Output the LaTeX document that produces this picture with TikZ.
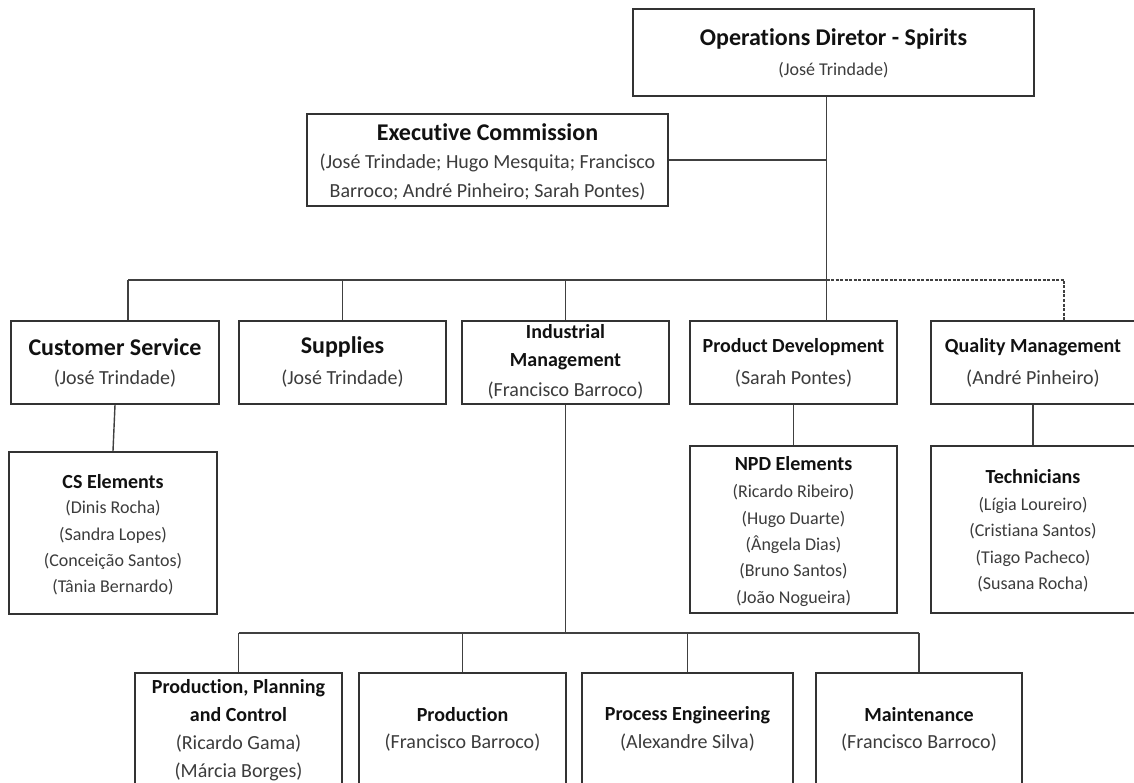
\documentclass[tikz,border=0pt]{standalone}
\usepackage{fontspec}
\setmainfont{Carlito}[Ligatures={NoCommon,NoContextual,NoRare,NoRequired},Contextuals=NoAlternate]
% zero kern between letters keeps the font from joining "t" and "i"
\newcommand\sepgl{\kern0pt{}}
\definecolor{boxline}{HTML}{333333}
\definecolor{linkline}{HTML}{404040}
\definecolor{headtext}{HTML}{111111}
\definecolor{nametext}{HTML}{3C3C3C}
\begin{document}
\begin{tikzpicture}[x=1pt,y=-1pt,
  unit/.style={draw=boxline,line width=2pt,inner sep=0pt,rectangle},
  headbig/.style={inner sep=0pt,text=headtext,align=center,font=\bfseries\fontsize{24}{29}\selectfont},
  headmid/.style={inner sep=0pt,text=headtext,align=center,font=\bfseries\fontsize{20}{28}\selectfont},
  person/.style={inner sep=0pt,text=nametext,align=center,font=\fontsize{20}{29}\selectfont},
  staff/.style={inner sep=0pt,text=nametext,align=center,font=\fontsize{18}{26.3}\selectfont},
  link/.style={draw=linkline,line width=1.4pt},
  dottedlink/.style={draw=linkline,line width=1.2pt,dash pattern=on 3pt off 1.5pt}]
\useasboundingbox (0,0) rectangle (1134,783);
\clip (0,0) rectangle (1134,783);
\fill[white] (0,0) rectangle (1134,783);

% ---- boxes ----
\node[unit,minimum width=401pt,minimum height=87pt] (od) at (833.5,52.5) {};
\node[unit,minimum width=361pt,minimum height=92pt] (ec) at (487.5,160) {};
\node[unit,minimum width=208pt,minimum height=83pt] (cs) at (115,362.5) {};
\node[unit,minimum width=207pt,minimum height=83pt] (sup) at (342.5,362.5) {};
\node[unit,minimum width=207pt,minimum height=83pt] (im) at (565.5,362.5) {};
\node[unit,minimum width=207pt,minimum height=83pt] (pd) at (793.5,362.5) {};
\node[unit,minimum width=204pt,minimum height=83pt] (qm) at (1033,362.5) {};
\node[unit,minimum width=208pt,minimum height=162pt] (cse) at (113,533) {};
\node[unit,minimum width=207pt,minimum height=167pt] (npd) at (793.5,529.5) {};
\node[unit,minimum width=204pt,minimum height=167pt] (tech) at (1033,529.5) {};
\node[unit,minimum width=207pt,minimum height=127pt] (ppc) at (238.5,736.5) {};
\node[unit,minimum width=207pt,minimum height=127pt] (prod) at (462.5,736.5) {};
\node[unit,minimum width=211pt,minimum height=127pt] (pe) at (687.5,736.5) {};
\node[unit,minimum width=206pt,minimum height=127pt] (mnt) at (919,736.5) {};

% ---- texts ----
\node[headbig] (od-t) at (833.5,39) {Operat\sepgl ions Diretor - Spirits};
\node[staff] (od-n) at (833.5,70) {(José Trindade)};

\node[headbig] (ec-t) at (487.5,132) {Execut\sepgl ive Commission};
\node[person] (ec-n) at (487.5,177.5) {(José Trindade; Hugo Mesquita; Francisco\\Barroco; André Pinheiro; Sarah Pontes)};

\node[headbig] (cs-t) at (115,347) {Customer Service};
\node[person] (cs-n) at (115,379) {(José Trindade)};
\node[headbig] (sup-t) at (342.5,347) {Supplies};
\node[person] (sup-n) at (342.5,379) {(José Trindade)};
\node[headmid] (im-t) at (565.5,347) {Industrial\\Management};
\node[person] (im-n) at (565.5,391) {(Francisco Barroco)};
\node[headmid] (pd-t) at (793.5,347) {Product Development};
\node[person] (pd-n) at (793.5,379) {(Sarah Pontes)};
\node[headmid] (qm-t) at (1033,347) {Quality Management};
\node[person] (qm-n) at (1033,379) {(André Pinheiro)};

\node[headmid] (cse-t) at (113,481.7) {CS Elements};
\node[staff] (cse-n) at (113,548) {(Dinis Rocha)\\(Sandra Lopes)\\(Conceição Santos)\\(Tânia Bernardo)};
\node[headmid] (npd-t) at (793.5,464) {NPD Elements};
\node[staff] (npd-n) at (793.5,545.4) {(Ricardo Ribeiro)\\(Hugo Duarte)\\(Ângela Dias)\\(Bruno Santos)\\(João Nogueira)};
\node[headmid] (tech-t) at (1033,476.6) {Technicians};
\node[staff] (tech-n) at (1033,544.8) {(Lígia Loureiro)\\(Crist\sepgl iana Santos)\\(Tiago Pacheco)\\(Susana Rocha)};

\node[headmid] (ppc-t) at (238.5,700.8) {Product\sepgl ion, Planning\\and Control};
\node[person,font=\fontsize{20}{27.7}\selectfont] (ppc-n) at (238.5,757.8) {(Ricardo Gama)\\(Márcia Borges)};
\node[headmid] (prod-t) at (462.5,715) {Product\sepgl ion};
\node[person] (prod-n) at (462.5,743) {(Francisco Barroco)};
\node[headmid] (pe-t) at (687.5,715) {Process Engineering};
\node[person] (pe-n) at (687.5,743) {(Alexandre Silva)};
\node[headmid] (mnt-t) at (919,715) {Maintenance};
\node[person] (mnt-n) at (919,743) {(Francisco Barroco)};

% ---- connectors ----
\coordinate (spine) at (826.5,280);
\coordinate (busleft) at (128,280);
\coordinate (busright) at (1064,280);
\coordinate (lowbus) at (565.5,633);

\draw[link] (od.south -| spine) -- (pd.north -| spine);
\draw[link] (ec.east) -- (ec.east -| spine);
\draw[link] (busleft) -- (spine);
\draw[dottedlink] (spine) -- (busright) -- (qm.north -| busright);
\draw[link] (busleft) -- (cs.north -| busleft);
\draw[link] (sup.north) -- (sup.north |- spine);
\draw[link] (im.north) -- (im.north |- spine);

\draw[link] (cs.south) -- (cse.north);
\draw[link] (pd.south) -- (npd.north);
\draw[link] (qm.south) -- (tech.north);

\draw[link] (im.south) -- (lowbus);
\draw[link] (ppc.north |- lowbus) -- (mnt.north |- lowbus);
\draw[link] (ppc.north) -- (ppc.north |- lowbus);
\draw[link] (prod.north) -- (prod.north |- lowbus);
\draw[link] (pe.north) -- (pe.north |- lowbus);
\draw[link] (mnt.north) -- (mnt.north |- lowbus);
\end{tikzpicture}
\end{document}
